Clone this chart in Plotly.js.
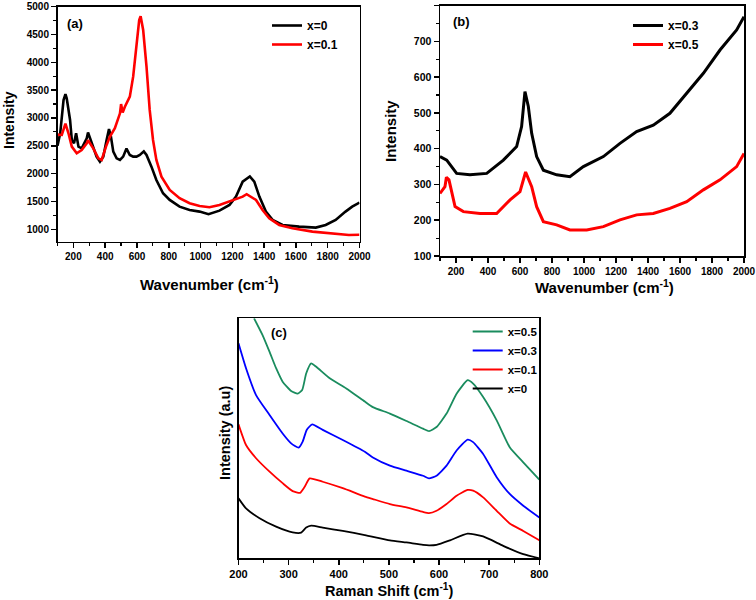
<!DOCTYPE html>
<html>
<head>
<meta charset="utf-8">
<script src="https://cdn.plot.ly/plotly-3.0.1.min.js"></script>
<style>html,body{margin:0;padding:0;background:#fff;}#chart{width:756px;height:600px;}</style>
</head>
<body>
<div id="chart"></div>
<script>
// ---------- Panel (a) ----------
const aX0 = [100,117,138,150,158,179,190,204,217,232,252,284,292,315,346,367,388,409,424,436,451,472,493,513,534,555,576,597,618,643,660,691,722,764,806,868,931,994,1050,1119,1182,1223,1265,1310,1338,1370,1411,1453,1516,1620,1725,1787,1850,1912,1954,2000];
const aY0 = [2500,2725,3323,3430,3353,2964,2605,2545,2725,2485,2455,2635,2740,2545,2305,2215,2305,2605,2800,2665,2395,2275,2245,2305,2450,2335,2305,2305,2335,2400,2335,2125,1886,1647,1527,1407,1347,1317,1270,1335,1437,1587,1856,1950,1856,1587,1317,1168,1078,1048,1030,1078,1168,1317,1407,1480];
const aX1 = [100,127,150,169,190,221,252,284,292,325,357,378,405,430,461,493,500,510,524,555,576,597,614,623,639,660,680,701,722,754,806,868,931,994,1056,1119,1202,1265,1290,1349,1390,1432,1495,1578,1704,1829,1933,2000];
const aY1 = [2700,2695,2900,2725,2485,2365,2425,2545,2600,2455,2275,2245,2485,2665,2815,3084,3250,3100,3203,3383,3743,4341,4760,4830,4581,3922,3144,2605,2245,1946,1707,1557,1467,1419,1395,1437,1527,1587,1630,1527,1347,1198,1078,1018,958,928,898,900];

// ---------- Panel (b) ----------
const bX3 = [100,142,204,287,392,496,579,610,631,652,673,704,746,829,912,996,1121,1225,1329,1433,1537,1642,1746,1850,1954,2000];
const bY3 = [378,368,331,327,331,368,406,462,560,518,443,378,340,327,322,350,378,415,448,466,499,555,611,676,732,769];
const bX5 = [100,131,140,156,194,246,350,454,538,600,635,673,704,746,829,912,1017,1121,1225,1329,1433,1537,1642,1746,1850,1954,2000];
const bY5 = [275,294,320,313,238,224,219,219,257,280,335,294,238,196,187,173,173,182,201,215,219,233,252,285,313,350,387];

// ---------- Panel (c) ----------
const cX0 = [200,215,242,275,308,325,335,345,368,408,452,502,535,568,580,595,622,657,688,728,768,800];
const cY0 = [25,20.8,16.7,13.2,10.8,10.7,12.8,13.6,12.8,11.4,9.7,7.5,6.6,5.6,5.4,5.6,7.5,10.3,9.1,5.2,1.7,0];
const cX1 = [200,215,235,262,288,308,323,332,342,368,408,452,468,502,535,568,580,595,615,635,657,668,688,715,741,768,800];
const cY1 = [55.8,47.2,41.7,36.1,31.3,28,27.3,29.8,33.3,31.9,29.2,25.7,24.7,22.6,21.2,19.3,18.8,19.8,22.6,26.1,28.5,28.2,25.4,19.8,14.5,11.4,7.5];
const cX3 = [200,215,235,262,288,305,320,328,336,347,368,408,452,468,502,535,568,580,595,615,635,657,668,688,715,741,768,800];
const cY3 = [89.6,79.2,68,59.7,52,47.9,46.1,48.6,53.5,55.8,53.5,49.3,44.4,42,38.6,36.5,34.4,33.3,34.4,38.6,44.9,49.4,48.4,43.5,33.8,26.8,21.9,17];
const cX5 = [231,248,262,275,288,305,318,327,335,345,355,382,415,452,468,502,535,568,580,595,615,635,657,668,688,715,741,768,800];
const cY5 = [100,93,86,79.2,73.6,69.7,68.6,70.1,77,81.2,79.8,75,70.8,65.3,63,60.3,57.2,54,53,54.7,60.3,68.6,74.2,72.8,67.2,57.5,46.3,40,32.8];

const FONT = 'Liberation Sans, Arial, sans-serif';
const BLACK = '#000000', RED = '#ff0000', BLUE = '#0000ff', GREEN = '#1a8c5e';
const SPL = {shape: 'spline', smoothing: 0.5};

const traces = [
  {x:aX0, y:aY0, xaxis:'x', yaxis:'y', mode:'lines', name:'x=0', line:{color:BLACK, width:2.6}, legend:'legend'},
  {x:aX1, y:aY1, xaxis:'x', yaxis:'y', mode:'lines', name:'x=0.1', line:{color:RED, width:2.6}, legend:'legend'},
  {x:bX3, y:bY3, xaxis:'x2', yaxis:'y2', mode:'lines', name:'x=0.3', line:{color:BLACK, width:3}, legend:'legend2'},
  {x:bX5, y:bY5, xaxis:'x2', yaxis:'y2', mode:'lines', name:'x=0.5', line:{color:RED, width:3}, legend:'legend2'},
  {x:cX0, y:cY0, xaxis:'x3', yaxis:'y3', mode:'lines', name:'x=0', line:Object.assign({color:BLACK, width:1.8}, SPL), legend:'legend3'},
  {x:cX1, y:cY1, xaxis:'x3', yaxis:'y3', mode:'lines', name:'x=0.1', line:Object.assign({color:RED, width:1.8}, SPL), legend:'legend3'},
  {x:cX3, y:cY3, xaxis:'x3', yaxis:'y3', mode:'lines', name:'x=0.3', line:Object.assign({color:BLUE, width:1.8}, SPL), legend:'legend3'},
  {x:cX5, y:cY5, xaxis:'x3', yaxis:'y3', mode:'lines', name:'x=0.5', line:Object.assign({color:GREEN, width:1.8}, SPL), legend:'legend3'}
];

function ax(domain, range, dtick, minorDtick, size, extra) {
  return Object.assign({
    domain: domain, range: range, dtick: dtick, tick0: 0,
    showline: true, linecolor: '#000', linewidth: 1.5, mirror: true,
    ticks: 'outside', ticklen: 5, tickwidth: 1.5, tickcolor: '#000',
    minor: {ticks: 'outside', ticklen: 3, tickwidth: 1.2, tickcolor: '#000', dtick: minorDtick, showgrid: false},
    showgrid: false, zeroline: false,
    tickfont: {family: FONT, size: size, color: '#000', weight: 'bold'}
  }, extra || {});
}

function ann(text, x, y, size, angle, extra) {
  return Object.assign({text: text, xref: 'paper', yref: 'paper', x: x/756, y: 1 - y/600,
    xanchor: 'center', yanchor: 'middle', showarrow: false, textangle: angle || 0,
    font: {family: FONT, size: size, color: '#000', weight: 'bold'}}, extra || {});
}

const legFont = {family: FONT, size: 12, color: '#000', weight: 'bold'};

const layout = {
  width: 756, height: 600,
  margin: {l: 0, r: 0, t: 0, b: 0},
  paper_bgcolor: '#fff', plot_bgcolor: '#fff',
  showlegend: true,
  xaxis: ax([57.5/756, 359.5/756], [100, 2000], 200, 100, 10, {anchor: 'y'}),
  yaxis: ax([1 - 241.5/600, 1 - 6.7/600], [780, 5000], 500, 250, 10, {anchor: 'x'}),
  xaxis2: ax([440/756, 744/756], [100, 2000], 200, 100, 10, {anchor: 'y2'}),
  yaxis2: ax([1 - 256/600, 1 - 5.7/600], [100, 800], 100, 50, 10.5, {anchor: 'x2'}),
  xaxis3: ax([238.5/756, 539.3/756], [200, 800], 100, 50, 11, {anchor: 'y3'}),
  yaxis3: ax([1 - 558.3/600, 1 - 318.3/600], [0, 100], 20, 10, 11, {anchor: 'x3', showticklabels: false, ticks: '', minor: {ticks: ''}}),
  legend: {x: 267/756, y: 1 - 11/600, xanchor: 'left', yanchor: 'top', bgcolor: 'rgba(0,0,0,0)', borderwidth: 0, font: legFont},
  legend2: {x: 628/756, y: 1 - 11/600, xanchor: 'left', yanchor: 'top', bgcolor: 'rgba(0,0,0,0)', borderwidth: 0, font: legFont},
  legend3: {x: 467.7/756, y: 1 - 317/600, xanchor: 'left', yanchor: 'top', bgcolor: 'rgba(0,0,0,0)', borderwidth: 0, font: {family: FONT, size: 11.5, color: '#000', weight: 'bold'}, traceorder: 'reversed'},
  annotations: [
    ann('(a)', 75, 23, 13),
    ann('(b)', 461, 21, 13),
    ann('(c)', 279, 332, 13),
    ann('Intensity', 9, 120, 14, -90),
    ann('Intensity', 391, 131, 15, -90),
    ann('Intensity (a.u)', 225, 433, 14.5, -90),
    ann('Wavenumber (cm<sup>-1</sup>)', 209, 283, 15),
    ann('Wavenumber (cm<sup>-1</sup>)', 604, 286, 15),
    ann('Raman Shift (cm<sup>-1</sup>)', 389, 590, 14.5)
  ]
};

Plotly.newPlot('chart', traces, layout, {staticPlot: true, displayModeBar: false});
</script>
</body>
</html>
